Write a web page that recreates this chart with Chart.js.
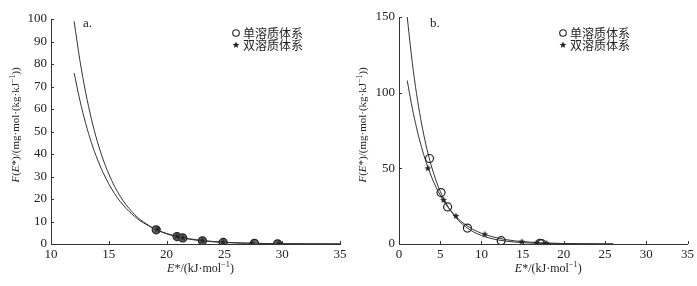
<!DOCTYPE html>
<html>
<head>
<meta charset="utf-8">
<script src="https://cdn.jsdelivr.net/npm/chart.js@4/dist/chart.umd.min.js"></script>
<style>
  html, body { margin: 0; padding: 0; background: #fff; }
  #wrap { position: relative; width: 697px; height: 286px; }
  .box { position: absolute; top: 0; height: 286px; }
</style>
</head>
<body>
<div id="wrap">
  <div class="box" style="left:0;width:350px"><canvas id="chartA"></canvas></div>
  <div class="box" style="left:350px;width:347px"><canvas id="chartB"></canvas></div>
</div>
<script>
// ---- panel a ----
var aFitX1 = [12, 12.5, 13, 13.5, 14, 14.5, 15, 15.5, 16, 16.5, 17, 17.5, 18, 18.5, 19, 20, 21, 22, 23, 24, 25, 26, 27, 28, 30, 32, 35];
var aFitY1 = [99, 81.6, 67.3, 55.5, 45.7, 37.7, 31.1, 25.6, 21.1, 17.4, 14.4, 11.8, 9.8, 8.1, 6.6, 4.5, 3.1, 2.1, 1.4, 0.97, 0.66, 0.45, 0.3, 0.21, 0.1, 0.045, 0.014];
var aFitX2 = [12, 12.5, 13, 13.5, 14, 14.5, 15, 15.5, 16, 16.5, 17, 17.5, 18, 18.5, 19, 20, 21, 22, 23, 24, 25, 26, 27, 28, 30, 32, 35];
var aFitY2 = [76, 63.8, 53.6, 45, 37.8, 31.8, 26.7, 22.4, 18.8, 15.8, 13.3, 11.1, 9.4, 7.9, 6.6, 4.7, 3.3, 2.3, 1.6, 1.15, 0.81, 0.57, 0.4, 0.28, 0.14, 0.07, 0.024];
var aSingleX = [19.1, 20.9, 21.4, 23.1, 24.9, 27.6, 29.6];
var aSingleY = [6.3, 3.3, 2.7, 1.4, 0.7, 0.3, 0.1];
var aDualX = [19.2, 20.9, 21.4, 23.1, 24.9, 27.4, 29.7];
var aDualY = [6.5, 3.4, 2.8, 1.5, 0.8, 0.3, 0.2];

// ---- panel b ----
var bFitX1 = [1, 1.5, 2, 2.5, 3, 3.5, 4, 4.5, 5, 5.5, 6, 7, 8, 9, 10, 11, 12, 13, 14, 15, 16, 17, 18, 20, 22, 24, 26];
var bFitY1 = [150, 125, 104, 86.8, 72.3, 60.2, 50.2, 41.8, 34.8, 29, 24.2, 16.8, 11.7, 8.1, 5.6, 3.9, 2.7, 1.9, 1.3, 0.9, 0.63, 0.44, 0.3, 0.15, 0.07, 0.035, 0.017];
var bFitX2 = [1, 1.5, 2, 2.5, 3, 3.5, 4, 4.5, 5, 5.5, 6, 7, 8, 9, 10, 11, 12, 13, 14, 15, 16, 17, 18, 20, 22, 24, 26];
var bFitY2 = [108, 92.9, 79.8, 68.7, 59, 50.8, 43.6, 37.5, 32.3, 27.7, 23.9, 17.6, 13, 9.6, 7.1, 5.3, 3.9, 2.9, 2.1, 1.6, 1.17, 0.86, 0.64, 0.35, 0.19, 0.1, 0.056];
var bSingleX = [3.7, 5.1, 5.9, 8.3, 12.4, 17.1, 17.3];
var bSingleY = [56.5, 34, 24.5, 10.5, 2.2, 0.4, 0.3];
var bDualX = [3.5, 5.4, 6.9, 10.4, 14.9, 16.7, 17.9];
var bDualY = [50, 29, 18.5, 6.4, 1.5, 0.8, 0.5];

var legendLabels = ['单溶质体系', '双溶质体系'];
var xTitle = [{t: 'E', i: true}, {t: '*/(kJ·mol'}, {t: '−1', sup: true}, {t: ')'}];
var yTitle = [{t: 'F', i: true}, {t: '('}, {t: 'E', i: true}, {t: '*)/(mg·mol·(kg·kJ'}, {t: '−1', sup: true}, {t: '))'}];

var SERIF = '"Liberation Serif", "DejaVu Serif", serif';
var INK = '#222';

function pts(xs, ys) {
	var out = [];
	for (var i = 0; i < xs.length; i++) out.push({x: xs[i], y: ys[i]});
	return out;
}

// small filled five-point star used as point style
function makeStar(r) {
	var c = document.createElement('canvas');
	var s = Math.ceil(r * 2 + 2);
	c.width = s; c.height = s;
	var g = c.getContext('2d');
	g.translate(s / 2, s / 2);
	g.beginPath();
	for (var k = 0; k < 10; k++) {
		var rr = k % 2 ? r * 0.45 : r;
		var a = -Math.PI / 2 + k * Math.PI / 5;
		g.lineTo(rr * Math.cos(a), rr * Math.sin(a));
	}
	g.closePath();
	g.fillStyle = '#222';
	g.fill();
	return c;
}
var starImg = makeStar(3.6);

function richWidth(ctx, parts, size) {
	var w = 0;
	parts.forEach(function(p) {
		ctx.font = (p.i ? 'italic ' : '') + (p.sup ? size * 0.7 : size) + 'px ' + SERIF;
		w += ctx.measureText(p.t).width;
	});
	return w;
}
function drawRich(ctx, parts, x, y, size) {
	var w = richWidth(ctx, parts, size);
	var cx = x - w / 2;
	ctx.textBaseline = 'alphabetic';
	ctx.textAlign = 'left';
	parts.forEach(function(p) {
		ctx.font = (p.i ? 'italic ' : '') + (p.sup ? size * 0.7 : size) + 'px ' + SERIF;
		ctx.fillText(p.t, cx, p.sup ? y - size * 0.4 : y);
		cx += ctx.measureText(p.t).width;
	});
}

// inward ticks, axis titles, panel letter and legend
var decor = {
	id: 'decor',
	afterDraw: function(chart, args, o) {
		var ctx = chart.ctx;
		var xs = chart.scales.x, ys = chart.scales.y;
		var a = chart.chartArea;
		ctx.save();
		ctx.strokeStyle = '#333';
		ctx.lineWidth = 1;
		xs.ticks.forEach(function(t) {
			var px = Math.round(xs.getPixelForValue(t.value)) + 0.5;
			ctx.beginPath(); ctx.moveTo(px, a.bottom); ctx.lineTo(px, a.bottom - 3); ctx.stroke();
		});
		ys.ticks.forEach(function(t) {
			var py = Math.round(ys.getPixelForValue(t.value)) + 0.5;
			ctx.beginPath(); ctx.moveTo(a.left, py); ctx.lineTo(a.left + 3, py); ctx.stroke();
		});
		ctx.fillStyle = INK;
		drawRich(ctx, xTitle, (a.left + a.right) / 2 + o.xTitleShift, 272, 12);
		ctx.save();
		ctx.translate(o.yTitleX, o.yTitleY);
		ctx.rotate(-Math.PI / 2);
		drawRich(ctx, yTitle, 0, 0, 11);
		ctx.restore();
		ctx.font = '13px ' + SERIF;
		ctx.textAlign = 'left';
		ctx.textBaseline = 'alphabetic';
		ctx.fillText(o.letter, o.letterX, 27);
		// legend
		var lx = o.legendX;
		ctx.beginPath();
		ctx.arc(lx, 33, 3.3, 0, Math.PI * 2);
		ctx.strokeStyle = '#222';
		ctx.lineWidth = 1.1;
		ctx.stroke();
		ctx.drawImage(starImg, lx - starImg.width / 2, 45 - starImg.height / 2);
		ctx.font = '12px "Noto Sans CJK SC"';
		ctx.textBaseline = 'middle';
		ctx.fillText(legendLabels[0], lx + 7, 33);
		ctx.fillText(legendLabels[1], lx + 7, 45.5);
		ctx.restore();
	}
};

function makeChart(id, d, cfg) {
	return new Chart(document.getElementById(id), {
		type: 'scatter',
		data: {
			datasets: [
				{data: pts(d.fx1, d.fy1), showLine: true, pointRadius: 0, borderColor: '#333', borderWidth: 1, cubicInterpolationMode: 'monotone', order: 4},
				{data: pts(d.fx2, d.fy2), showLine: true, pointRadius: 0, borderColor: '#333', borderWidth: 1, cubicInterpolationMode: 'monotone', order: 3},
				{data: pts(d.sx, d.sy), pointStyle: 'circle', pointRadius: 4, borderColor: '#222', borderWidth: 1.2, backgroundColor: cfg.circleFill, order: 2},
				{data: pts(d.dx, d.dy), pointStyle: starImg, pointRadius: 4, order: 1}
			]
		},
		options: {
			responsive: false,
			animation: false,
			layout: {padding: {top: cfg.top, right: cfg.right, left: 0, bottom: 0}},
			plugins: {legend: {display: false}, tooltip: {enabled: false}, decor: cfg.decor},
			scales: {
				x: {
					type: 'linear', min: cfg.xmin, max: 35,
					ticks: {stepSize: 5, color: INK, padding: 3, font: {family: SERIF, size: 13}, maxRotation: 0},
					grid: {display: true, drawOnChartArea: false, drawTicks: false},
					border: {color: '#333', width: 1},
					afterFit: function(s) { s.height = 42; }
				},
				y: {
					type: 'linear', min: 0, max: cfg.ymax,
					ticks: {stepSize: cfg.ystep, color: INK, padding: 4, font: {family: SERIF, size: 13}},
					grid: {display: true, drawOnChartArea: false, drawTicks: false},
					border: {color: '#333', width: 1},
					afterFit: function(s) { s.width = cfg.yw; }
				}
			}
		},
		plugins: [decor]
	});
}

document.getElementById('chartA').width = 350;
document.getElementById('chartA').height = 286;
document.getElementById('chartB').width = 347;
document.getElementById('chartB').height = 286;

makeChart('chartA',
	{fx1: aFitX1, fy1: aFitY1, fx2: aFitX2, fy2: aFitY2, sx: aSingleX, sy: aSingleY, dx: aDualX, dy: aDualY},
	{xmin: 10, ymax: 100, ystep: 10, top: 19, right: 10, yw: 51, circleFill: '#666',
	 decor: {letter: 'a.', letterX: 83, legendX: 236, yTitleX: 19, yTitleY: 125, xTitleShift: 5}});

makeChart('chartB',
	{fx1: bFitX1, fy1: bFitY1, fx2: bFitX2, fy2: bFitY2, sx: bSingleX, sy: bSingleY, dx: bDualX, dy: bDualY},
	{xmin: 0, ymax: 150, ystep: 50, top: 17, right: 9, yw: 49, circleFill: 'rgba(255,255,255,0)',
	 decor: {letter: 'b.', letterX: 80, legendX: 213, yTitleX: 16, yTitleY: 125, xTitleShift: 5}});
</script>
</body>
</html>
